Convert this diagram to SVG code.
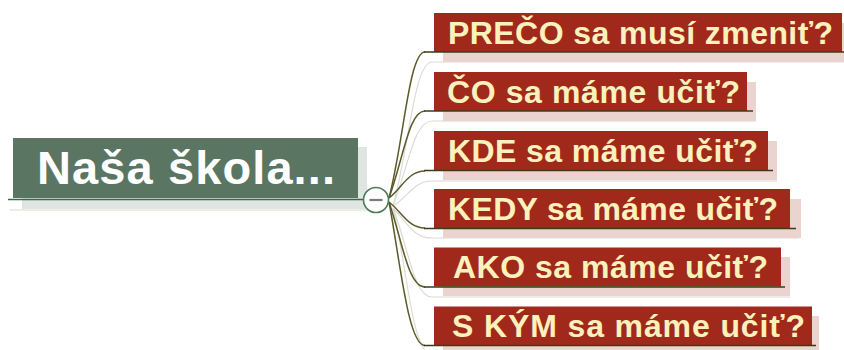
<svg xmlns="http://www.w3.org/2000/svg" width="844" height="350" viewBox="0 0 844 350">
  <style>
    .root-shadow { fill: #dfe5e1; }
    .root-box { fill: #5a7662; }
    .root-text { fill: #ffffff; font-family: "Liberation Sans", Arial, sans-serif; font-weight: bold; font-size: 47px; }
    .root-line { stroke: #3f6a49; stroke-width: 1.6; fill: none; }
    .topic-shadow { fill: #ebd3d0; }
    .topic-box { fill: #a0291b; }
    .topic-text { fill: #fbf1bd; font-family: "Liberation Sans", Arial, sans-serif; font-weight: bold; font-size: 32px; }
    .topic-line { stroke: #3e3c17; stroke-width: 1.6; fill: none; }
    .ghost { stroke: #d9dcd3; stroke-width: 1.2; fill: none; }
    .link { stroke: #5b5a2a; stroke-width: 1.5; fill: none; }
    .toggle { fill: #ffffff; stroke: #4d7c59; stroke-width: 1.6; }
    .minus { stroke: #7a7a7a; stroke-width: 2.2; }
  </style>

  <!-- soft shadows of the connectors -->
  <g id="connector-shadows">
    <path class="ghost" d="M393,206 C409,148 414,62 432,62 L844,62"/>
    <path class="ghost" d="M393,206 C409,164 414,121 432,121 L756,121"/>
    <path class="ghost" d="M393,206 C409,196 414,181 432,181 L777,181"/>
    <path class="ghost" d="M393,208 C409,225 414,238 432,238 L799,238"/>
    <path class="ghost" d="M393,208 C409,250 414,297 432,297 L790,297"/>
    <path class="ghost" d="M393,208 C407,266 412,355 432,355"/>
    <path class="ghost" d="M10,210 L372,210"/>
  </g>

  <!-- central topic -->
  <g id="root">
    <rect class="root-shadow" x="22" y="147" width="345" height="62"/>
    <rect class="root-box" x="13" y="138" width="345" height="60"/>
    <text class="root-text" x="37" y="184" textLength="298" lengthAdjust="spacing">Naša škola...</text>
    <path class="root-line" d="M8,199.5 L364,199.5"/>
  </g>

  <!-- subtopics -->
  <g id="topic-preco">
    <rect class="topic-shadow" x="443" y="23" width="401" height="39"/>
    <rect class="topic-box" x="434" y="13" width="408" height="39"/>
    <text class="topic-text" x="448" y="43.5" textLength="385" lengthAdjust="spacing">PREČO sa musí zmeniť?</text>
  </g>
  <g id="topic-co">
    <rect class="topic-shadow" x="443" y="82" width="313" height="39"/>
    <rect class="topic-box" x="434" y="72" width="313" height="39"/>
    <text class="topic-text" x="447" y="102.5" textLength="293" lengthAdjust="spacing">ČO sa máme učiť?</text>
  </g>
  <g id="topic-kde">
    <rect class="topic-shadow" x="443" y="141" width="334" height="39"/>
    <rect class="topic-box" x="434" y="131" width="334" height="39"/>
    <text class="topic-text" x="448" y="161.5" textLength="310" lengthAdjust="spacing">KDE sa máme učiť?</text>
  </g>
  <g id="topic-kedy">
    <rect class="topic-shadow" x="443" y="199" width="358" height="39"/>
    <rect class="topic-box" x="434" y="189" width="356" height="39"/>
    <text class="topic-text" x="448" y="219.5" textLength="330" lengthAdjust="spacing">KEDY sa máme učiť?</text>
  </g>
  <g id="topic-ako">
    <rect class="topic-shadow" x="443" y="257" width="347" height="39"/>
    <rect class="topic-box" x="434" y="247.5" width="347" height="39"/>
    <text class="topic-text" x="453" y="278" textLength="315" lengthAdjust="spacing">AKO sa máme učiť?</text>
  </g>
  <g id="topic-skym">
    <rect class="topic-shadow" x="443" y="316" width="376" height="34"/>
    <rect class="topic-box" x="434" y="306.5" width="378" height="39"/>
    <text class="topic-text" x="452" y="337" textLength="353" lengthAdjust="spacing">S KÝM sa máme učiť?</text>
  </g>

  <!-- branch connectors with topic underlines -->
  <g id="connectors">
    <path class="link" d="M389,198 C404,140 409,52 425,52"/>
    <path class="link" d="M389,198 C404,156 409,111 425,111"/>
    <path class="link" d="M389,198 C402,188 408,171 425,171"/>
    <path class="link" d="M389,202 C402,212 408,228 425,228"/>
    <path class="link" d="M389,202 C402,240 408,287 425,287"/>
    <path class="link" d="M389,202 C400,260 408,345.5 425,345.5"/>
    <path class="topic-line" d="M424,52 L844,52"/>
    <path class="topic-line" d="M424,111 L753,111"/>
    <path class="topic-line" d="M424,170.5 L773,170.5"/>
    <path class="topic-line" d="M424,228.5 L796,228.5"/>
    <path class="topic-line" d="M424,287 L785,287"/>
    <path class="topic-line" d="M424,345.5 L816,345.5"/>
  </g>

  <!-- collapse toggle -->
  <g id="toggle">
    <circle class="toggle" cx="376" cy="200" r="12.5"/>
    <line class="minus" x1="369.5" y1="200" x2="382.5" y2="200"/>
  </g>
</svg>
